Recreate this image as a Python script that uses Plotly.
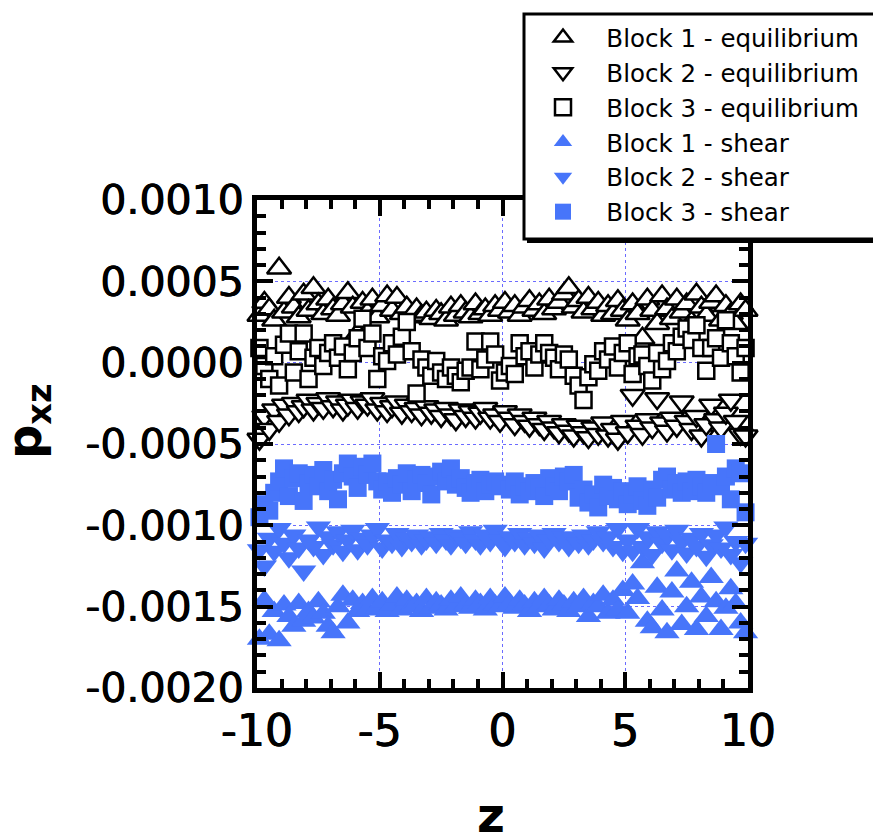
import plotly.graph_objects as go

# ---------------- data (p_xz values, in units of 1e-4) ----------------
z = [-9.9, -9.7, -9.5, -9.3, -9.1, -8.9, -8.7, -8.5, -8.3, -8.1,
     -7.9, -7.7, -7.5, -7.3, -7.1, -6.9, -6.7, -6.5, -6.3, -6.1,
     -5.9, -5.7, -5.5, -5.3, -5.1, -4.9, -4.7, -4.5, -4.3, -4.1,
     -3.9, -3.7, -3.5, -3.3, -3.1, -2.9, -2.7, -2.5, -2.3, -2.1,
     -1.9, -1.7, -1.5, -1.3, -1.1, -0.9, -0.7, -0.5, -0.3, -0.1,
     0.1, 0.3, 0.5, 0.7, 0.9, 1.1, 1.3, 1.5, 1.7, 1.9,
     2.1, 2.3, 2.5, 2.7, 2.9, 3.1, 3.3, 3.5, 3.7, 3.9,
     4.1, 4.3, 4.5, 4.7, 4.9, 5.1, 5.3, 5.5, 5.7, 5.9,
     6.1, 6.3, 6.5, 6.7, 6.9, 7.1, 7.3, 7.5, 7.7, 7.9,
     8.1, 8.3, 8.5, 8.7, 8.9, 9.1, 9.3, 9.5, 9.7, 9.9]

block1_eq = [2.9, 3.7, 3.3, 2.6, 5.8, 3.1, 4.0, 3.4, 2.8, 4.2,
             3.2, 4.6, 3.6, 3.0, 3.9, 3.3, 2.9, 3.6, 4.3, 3.4,
             1.8, 3.7, 3.1, 3.9, 2.8, 3.5, 4.1, 3.2, 4.0, 3.0,
             3.4, 2.8, 3.3, 2.9, 3.1, 2.7, 3.2, 3.0, 2.6, 3.4,
             2.9, 3.5, 3.1, 2.8, 3.6, 3.0, 3.3, 2.9, 3.5, 3.2,
             3.7, 3.1, 3.5, 2.9, 3.4, 3.8, 3.2, 3.6, 3.0, 3.9,
             3.3, 3.7, 4.2, 4.6, 3.4, 3.8, 3.1, 4.0, 3.3, 3.7,
             2.9, 3.5, 3.0, 3.8, 3.2, 2.6, 3.6, 3.0, 1.5, 3.9,
             3.2, 2.4, 4.1, 3.3, 2.7, 3.9, 3.1, 3.6, 2.5, 4.2,
             3.4, 2.9, 3.7, 4.1, 2.6, 3.5, 3.0, 2.4, 3.6, 3.2]

block2_eq = [-4.7, -3.3, -4.1, -2.9, -3.6, -2.6, -3.2, -2.5, -3.0, -2.7,
             -2.3, -2.9, -2.5, -2.8, -2.2, -2.7, -2.4, -2.9, -2.6, -2.3,
             -2.8, -2.4, -2.6, -2.2, -2.9, -2.5, -3.0, -2.7, -2.4, -3.1,
             -2.6, -3.0, -2.8, -3.2, -2.7, -3.1, -2.9, -3.3, -2.8, -3.2,
             -3.5, -2.9, -3.3, -3.0, -3.4, -3.1, -2.8, -3.4, -3.2, -3.6,
             -3.0, -3.4, -3.8, -3.2, -3.6, -3.9, -3.4, -3.8, -4.1, -3.6,
             -4.0, -4.3, -3.8, -4.2, -4.5, -3.9, -4.3, -4.6, -4.0, -4.4,
             -3.7, -4.5, -4.1, -4.7, -3.6, -4.3, -2.0, -3.9, -4.4, -3.5,
             -4.0, -2.2, -3.7, -4.2, -3.4, -3.9, -2.4, -3.6, -4.1, -3.3,
             -4.5, -3.8, -2.6, -3.5, -4.0, -3.1, -2.3, -3.6, -4.4, -4.5]

block3_eq = [0.9, -0.2, -1.0, 0.4, -1.4, 1.1, 1.8, -0.6, 0.7, 1.8,
             -1.0, 0.3, 0.9, -0.2, 0.6, 1.2, 0.3, 1.0, -0.4, 0.6,
             1.5, 2.7, 0.9, 1.8, -1.0, 0.4, 0.1, 1.2, 0.5, 1.6,
             2.5, 0.7, -1.9, 0.2, -0.3, -0.8, 0.1, -0.6, -1.0, -0.3,
             -0.8, -1.2, -0.5, -0.3, 1.3, -0.4, 0.2, 1.3, 0.5, -1.1,
             -0.6, -0.2, -0.7, 1.2, 0.4, 0.7, -0.3, 0.5, 1.2, 0.6,
             0.3, -0.4, 0.5, 0.2, -0.8, -1.4, -2.3, -0.9, -0.1, -0.5,
             0.7, 0.2, 1.0, -0.3, 0.6, 1.2, -0.7, 0.4, 0.5, -0.2,
             -1.1, 0.6, -0.4, 0.1, 1.2, 0.7, 1.6, 2.1, 1.4, 2.3,
             0.9, -0.5, 0.9, 1.5, 0.3, 2.6, 1.2, 0.4, -0.6, 0.9]

block1_shear = [-17.0, -14.6, -16.7, -15.3, -17.1, -14.9, -15.6, -16.2, -14.8, -15.9,
                -15.3, -15.7, -14.7, -15.4, -16.2, -16.6, -15.0, -14.3, -16.0, -14.6,
                -15.3, -14.8, -15.2, -14.5, -15.1, -14.7, -15.3, -14.9, -14.4, -15.2,
                -14.6, -15.0, -14.8, -15.3, -14.5, -15.1, -14.7, -14.9, -15.2, -14.6,
                -15.0, -14.4, -14.9, -15.1, -14.6, -14.8, -15.2, -14.5, -14.9, -15.0,
                -14.4, -14.8, -15.1, -14.6, -14.9, -15.3, -14.7, -15.0, -14.5, -14.9,
                -15.2, -14.6, -14.9, -15.3, -14.7, -15.0, -14.5, -15.6, -14.8, -15.0,
                -14.3, -15.4, -14.6, -15.2, -14.0, -15.4, -13.6, -14.5, -12.3, -15.9,
                -16.3, -13.8, -15.2, -16.6, -14.1, -12.8, -16.1, -15.0, -13.5, -16.4,
                -14.4, -15.6, -13.2, -14.7, -16.4, -15.1, -13.9, -14.8, -16.0, -16.6]

block2_shear = [-11.5, -12.5, -10.8, -11.6, -10.2, -11.1, -12.0, -10.6, -11.4, -12.8,
                -10.9, -11.3, -10.1, -11.8, -10.7, -11.2, -10.4, -11.6, -10.9, -10.3,
                -11.5, -10.8, -11.2, -10.6, -10.2, -11.4, -10.9, -11.1, -10.5, -11.3,
                -10.8, -11.0, -10.6, -11.2, -10.9, -10.7, -11.1, -10.5, -10.9, -11.2,
                -10.6, -10.8, -11.1, -10.4, -10.9, -11.2, -10.6, -11.0, -10.3, -10.9,
                -11.3, -10.7, -11.0, -10.5, -11.2, -10.8, -11.1, -10.6, -11.4, -10.9,
                -10.5, -11.0, -10.7, -11.3, -10.8, -11.1, -10.6, -11.2, -10.9, -10.4,
                -11.0, -10.7, -11.3, -10.2, -11.6, -10.9, -11.6, -10.2, -11.3, -10.7,
                -11.8, -10.4, -11.1, -10.6, -11.5, -10.3, -11.0, -11.7, -10.8, -11.3,
                -10.5, -11.9, -11.2, -10.6, -11.4, -10.1, -11.8, -11.0, -12.3, -11.1]

block3_shear = [-9.5, -8.7, -9.1, -8.0, -7.3, -6.5, -8.2, -7.1, -6.8, -8.5,
                -7.4, -6.9, -7.6, -6.6, -7.9, -7.2, -8.4, -6.8, -6.2, -7.0,
                -7.7, -6.4, -6.9, -6.2, -7.3, -7.8, -7.3, -8.0, -7.1, -7.5,
                -6.8, -7.9, -7.2, -6.9, -7.4, -8.1, -7.0, -6.7, -7.3, -6.5,
                -7.5, -7.1, -7.7, -8.0, -7.4, -7.2, -7.9, -7.5, -7.3, -7.6,
                -7.5, -7.8, -7.3, -8.1, -7.6, -7.9, -7.4, -7.7, -8.2, -7.1,
                -7.6, -7.9, -7.0, -7.3, -6.9, -8.3, -7.8, -8.6, -8.1, -8.9,
                -7.5, -8.2, -7.7, -8.4, -7.9, -8.7, -8.1, -7.6, -8.5, -8.8,
                -7.8, -8.3, -7.2, -7.0, -7.8, -7.4, -8.0, -7.3, -7.9, -7.2,
                -7.6, -8.0, -7.4, -5.0, -7.6, -7.0, -8.4, -6.5, -6.8, -9.2]

series_names = ["Block 1 - equilibrium", "Block 2 - equilibrium", "Block 3 - equilibrium",
                "Block 1 - shear", "Block 2 - shear", "Block 3 - shear"]

x_tickvals = [-10, -5, 0, 5, 10]
x_ticktext = ["-10", "-5", "0", "5", "10"]
y_tickvals = [-0.0020, -0.0015, -0.0010, -0.0005, 0.0000, 0.0005, 0.0010]
y_ticktext = ["-0.0020", "-0.0015", "-0.0010", "-0.0005", "0.0000", "0.0005", "0.0010"]
x_title = "z"
y_title = "p<sub>xz</sub>"

SCALE = 1e-4

# ---------------- styling ----------------
W, H = 873, 839
L, R, T, B = 257, 125, 200, 151
PW, PH = W - L - R, H - T - B
BLUE = "#4775fa"
FONT = "DejaVu Sans"
SEMI = "0.45px 0px 0px black, -0.45px 0px 0px black"


def px_x(px):
    return (px - L) / PW


def px_y(py):
    return 1 - (py - T) / PH


styles = [
    dict(symbol="triangle-up", size=21, color="white", line=dict(color="black", width=2.5)),
    dict(symbol="triangle-down", size=21, color="white", line=dict(color="black", width=2.5)),
    dict(symbol="square", size=16, color="white", line=dict(color="black", width=2.5)),
    dict(symbol="triangle-up", size=22, color=BLUE, line=dict(width=0)),
    dict(symbol="triangle-down", size=22, color=BLUE, line=dict(width=0)),
    dict(symbol="square", size=18, color=BLUE, line=dict(width=0)),
]
values = [block1_eq, block2_eq, block3_eq, block1_shear, block2_shear, block3_shear]

fig = go.Figure()
for name, vals, st in zip(series_names, values, styles):
    fig.add_trace(go.Scatter(
        x=z, y=[v * SCALE for v in vals], mode="markers",
        name="\u00a0\u00a0\u00a0" + name, marker=st, cliponaxis=False,
    ))

axis_common = dict(
    showline=True, linecolor="black", linewidth=5, mirror="allticks",
    ticks="inside", ticklen=16, tickwidth=4, tickcolor="black",
    showgrid=True, gridcolor="#6b6bff", griddash="dot", gridwidth=1,
    zeroline=False, tickmode="array",
)

fig.update_xaxes(
    **axis_common, range=[-10, 10], tickvals=x_tickvals, ticktext=x_ticktext,
    tickfont=dict(family=FONT, size=44, color="black", shadow=SEMI), ticklabelstandoff=0,
    minor=dict(dtick=1, tick0=0, ticks="inside", ticklen=9, tickwidth=4,
               tickcolor="black", showgrid=False),
)
fig.update_yaxes(
    **axis_common, range=[-0.002, 0.001], tickvals=y_tickvals, ticktext=y_ticktext,
    tickfont=dict(family=FONT, size=41, color="black", shadow=SEMI), ticklabelstandoff=0,
    minor=dict(dtick=0.0001, tick0=0, ticks="inside", ticklen=9, tickwidth=4,
               tickcolor="black", showgrid=False),
)

# axis titles placed as annotations for exact positioning
title_font = dict(family=FONT, size=48, color="black", weight="bold")
fig.add_annotation(text=x_title, xref="paper", yref="paper", x=px_x(491), y=px_y(815),
                   xanchor="center", yanchor="middle", showarrow=False, font=title_font)
fig.add_annotation(text=y_title, xref="paper", yref="paper", x=px_x(27), y=px_y(421),
                   xanchor="center", yanchor="middle", showarrow=False, textangle=-90,
                   font=title_font)

# legend frame with drop shadow
fig.add_shape(type="rect", xref="paper", yref="paper", layer="above",
              x0=px_x(527), x1=px_x(895), y0=px_y(243), y1=px_y(17),
              fillcolor="black", line=dict(width=0))
fig.add_shape(type="rect", xref="paper", yref="paper", layer="above",
              x0=px_x(524), x1=px_x(890), y0=px_y(239), y1=px_y(14),
              fillcolor="white", line=dict(color="black", width=3))

fig.update_layout(
    width=W, height=H,
    margin=dict(l=L, r=R, t=T, b=B, autoexpand=False),
    paper_bgcolor="white", plot_bgcolor="white",
    font=dict(family=FONT, color="black"),
    showlegend=True,
    legend=dict(
        xref="container", yref="container", x=543 / W, y=1 - 15 / H,
        xanchor="left", yanchor="top",
        bgcolor="rgba(0,0,0,0)", borderwidth=0,
        font=dict(family=FONT, size=24.5, color="black"),
        itemsizing="trace",
    ),
)

fig.write_html("out.html", config={"displayModeBar": False},
               post_script="document.body.style.margin='0px';")
